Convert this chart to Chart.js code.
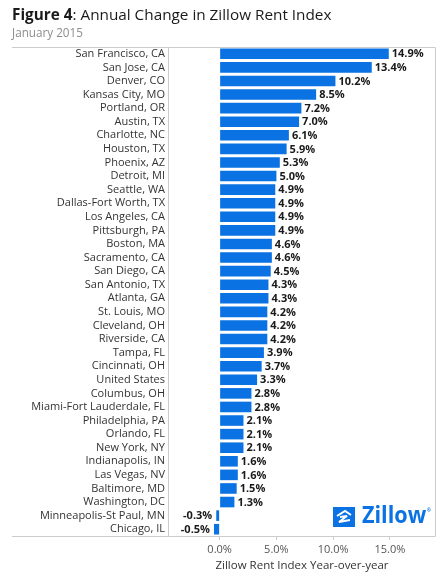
<!DOCTYPE html>
<html>
<head>
<meta charset="utf-8">
<title>Annual Change in Zillow Rent Index</title>
<script src="https://cdn.jsdelivr.net/npm/chart.js@4"></script>
<style>
  body { margin: 0; background: #fff; }
  #wrap { position: relative; width: 444px; height: 584px; font-family: 'Open Sans', sans-serif; }
  #chart { position: absolute; left: 0; top: 0; }
  #title { position: absolute; left: 12px; top: 7px; font-size: 15.3px; line-height: 1; color: #1a1a1a; white-space: nowrap; }
  #title b { font-weight: 700; }
  #sub { position: absolute; left: 12px; top: 27px; font-size: 11.7px; line-height: 1; color: #8c8c8c; }
  #logo { position: absolute; left: 333px; top: 507px; width: 22px; height: 20px; background: #0A72E3; }
  #logotext { position: absolute; left: 362px; top: 502px; font-size: 24px; line-height: 1; font-weight: 700; color: #0A72E3;
              transform: scaleX(0.9); transform-origin: left top; }
  #logotext sup { font-size: 5px; vertical-align: top; position: relative; top: 6px; margin-left: 1px; }
</style>
</head>
<body>
<div id="wrap">
  <canvas id="chart" width="444" height="584"></canvas>
  <div id="title"><b>Figure 4</b>: Annual Change in Zillow Rent Index</div>
  <div id="sub">January 2015</div>
  <div id="logo">
    <svg width="22" height="20" viewBox="0 0 22 20">
      <path d="M4 9 L12 4 L18 8" stroke="#fff" stroke-width="2" fill="none"/>
      <path d="M7 10 L14 9 L6 15 L17 13" stroke="#fff" stroke-width="2" fill="none"/>
    </svg>
  </div>
  <div id="logotext">Zillow<sup>&reg;</sup></div>
</div>
<script>
// values
var cities = [
  'San Francisco, CA', 'San Jose, CA', 'Denver, CO', 'Kansas City, MO', 'Portland, OR',
  'Austin, TX', 'Charlotte, NC', 'Houston, TX', 'Phoenix, AZ', 'Detroit, MI',
  'Seattle, WA', 'Dallas-Fort Worth, TX', 'Los Angeles, CA', 'Pittsburgh, PA', 'Boston, MA',
  'Sacramento, CA', 'San Diego, CA', 'San Antonio, TX', 'Atlanta, GA', 'St. Louis, MO',
  'Cleveland, OH', 'Riverside, CA', 'Tampa, FL', 'Cincinnati, OH', 'United States',
  'Columbus, OH', 'Miami-Fort Lauderdale, FL', 'Philadelphia, PA', 'Orlando, FL', 'New York, NY',
  'Indianapolis, IN', 'Las Vegas, NV', 'Baltimore, MD', 'Washington, DC', 'Minneapolis-St Paul, MN',
  'Chicago, IL'
];
var changes = [
  14.9, 13.4, 10.2, 8.5, 7.2,
  7.0, 6.1, 5.9, 5.3, 5.0,
  4.9, 4.9, 4.9, 4.9, 4.6,
  4.6, 4.5, 4.3, 4.3, 4.2,
  4.2, 4.2, 3.9, 3.7, 3.3,
  2.8, 2.8, 2.1, 2.1, 2.1,
  1.6, 1.6, 1.5, 1.3, -0.3,
  -0.5
];
var xTicks = [0, 5, 10, 15];

var barBlue = '#0A72E3';
var frameGray = '#cccccc';

// box lines: top and bottom run under the labels too, plus the right edge
var frame = {
  id: 'frame',
  afterDraw: function(chart) {
    var ctx = chart.ctx, a = chart.chartArea;
    var top = Math.round(a.top) + 0.5, bottom = Math.round(a.bottom) + 0.5, right = Math.round(a.right) - 0.5;
    ctx.save();
    ctx.strokeStyle = frameGray;
    ctx.lineWidth = 1;
    ctx.beginPath();
    ctx.moveTo(12, top); ctx.lineTo(right, top);
    ctx.lineTo(right, bottom); ctx.lineTo(12, bottom);
    ctx.stroke();
    ctx.restore();
  }
};

// bold value at the end of every bar
var valueLabels = {
  id: 'valueLabels',
  afterDatasetsDraw: function(chart) {
    var ctx = chart.ctx;
    var meta = chart.getDatasetMeta(0);
    ctx.save();
    ctx.font = 'bold 11px "Open Sans"';
    ctx.fillStyle = '#1a1a1a';
    ctx.textBaseline = 'middle';
    meta.data.forEach(function(bar, i) {
      var v = changes[i];
      var txt = v.toFixed(1) + '%';
      if (v >= 0) {
        ctx.textAlign = 'left';
        ctx.fillText(txt, bar.x + 3, bar.y + 0.5);
      } else {
        ctx.textAlign = 'right';
        ctx.fillText(txt, bar.x - 4, bar.y + 0.5);
      }
    });
    ctx.restore();
  }
};

Chart.defaults.font.family = "'Open Sans'";
Chart.defaults.font.size = 11;

new Chart('chart', {
  type: 'bar',
  data: {
    labels: cities,
    datasets: [{
      data: changes,
      backgroundColor: barBlue,
      borderWidth: 0,
      barPercentage: 0.78,
      categoryPercentage: 1
    }]
  },
  options: {
    indexAxis: 'y',
    responsive: false,
    animation: false,
    layout: { padding: { top: 47, right: 8, left: 0, bottom: 0 } },
    plugins: {
      legend: { display: false },
      tooltip: { enabled: false }
    },
    scales: {
      y: {
        grid: { display: false, drawTicks: false },
        border: { display: true, color: frameGray },
        ticks: { color: '#333', padding: 3, autoSkip: false, font: { size: 11 } },
        afterFit: function(s) { s.width = 168; }
      },
      x: {
        min: -4.55,
        max: 19.06,
        afterBuildTicks: function(s) {
          s.ticks = xTicks.map(function(v) { return { value: v }; });
        },
        grid: { drawOnChartArea: false, drawTicks: true, tickLength: 4, color: frameGray },
        border: { display: false },
        ticks: {
          color: '#555',
          padding: 3,
          maxRotation: 0,
          font: { size: 11 },
          callback: function(v) { return Number(v).toFixed(1) + '%'; }
        },
        title: {
          display: true,
          text: 'Zillow Rent Index Year-over-year',
          color: '#333',
          font: { size: 11.5 },
          padding: { top: 0, bottom: 11 }
        },
        afterFit: function(s) { s.height = 48; }
      }
    }
  },
  plugins: [frame, valueLabels]
});
</script>
</body>
</html>
